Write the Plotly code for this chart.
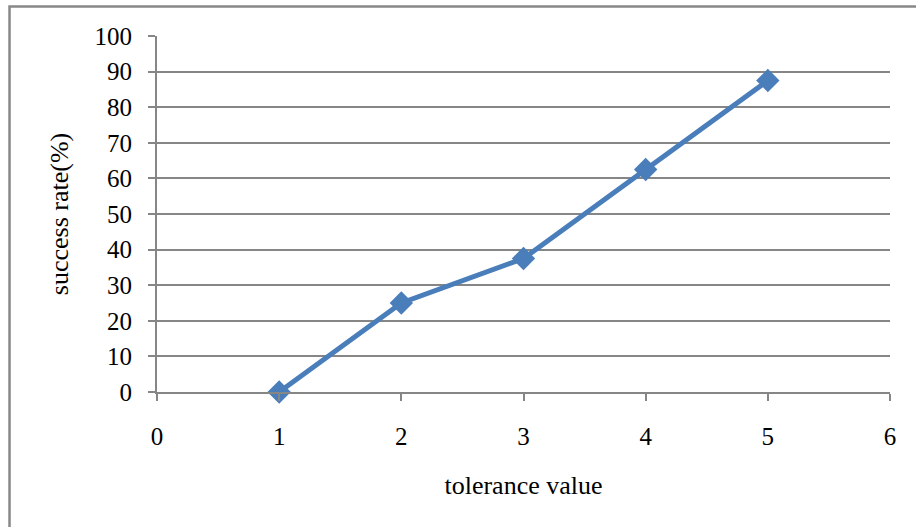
import plotly.graph_objects as go

# Success rate measured at each tolerance value
tolerance = [1, 2, 3, 4, 5]
success_rate = [0, 25, 37.5, 62.5, 87.5]

x_ticks = [0, 1, 2, 3, 4, 5, 6]
y_ticks = [0, 10, 20, 30, 40, 50, 60, 70, 80, 90, 100]

line_blue = "#4A7EBB"
axis_gray = "#868686"
font_family = "Liberation Serif, Times New Roman, serif"

fig = go.Figure()
fig.add_trace(go.Scatter(
    x=tolerance, y=success_rate,
    mode="lines+markers",
    line=dict(color=line_blue, width=5),
    marker=dict(symbol="diamond", size=18, color=line_blue),
    showlegend=False,
    cliponaxis=False,
))

fig.update_layout(
    width=916, height=527,
    margin=dict(l=157, r=26, t=36, b=135),
    plot_bgcolor="white", paper_bgcolor="white",
    font=dict(family=font_family, color="black", size=25),
    xaxis=dict(
        range=[0, 6], tickvals=x_ticks, ticktext=[str(v) for v in x_ticks],
        showgrid=False, zeroline=False,
        showline=True, linecolor=axis_gray, linewidth=2,
        ticks="outside", ticklen=7, tickwidth=2, tickcolor=axis_gray,
        ticklabelstandoff=14,
        title=dict(text="tolerance value", font=dict(size=26), standoff=27),
    ),
    yaxis=dict(
        range=[0, 100], tickvals=y_ticks,
        showgrid=True, gridcolor=axis_gray, gridwidth=1.5,
        zeroline=False,
        showline=True, linecolor=axis_gray, linewidth=2,
        ticks="outside", ticklen=7, tickwidth=2, tickcolor=axis_gray,
        ticklabelstandoff=11,
        title=dict(text="success rate(%)", font=dict(size=26), standoff=18),
    ),
    shapes=[dict(
        type="rect", xref="paper", yref="paper",
        x0=-0.2012, x1=1.045, y0=-0.40, y1=1.0829,
        line=dict(color="#888888", width=2.5), layer="below",
    )],
)

fig.write_html("out.html")
